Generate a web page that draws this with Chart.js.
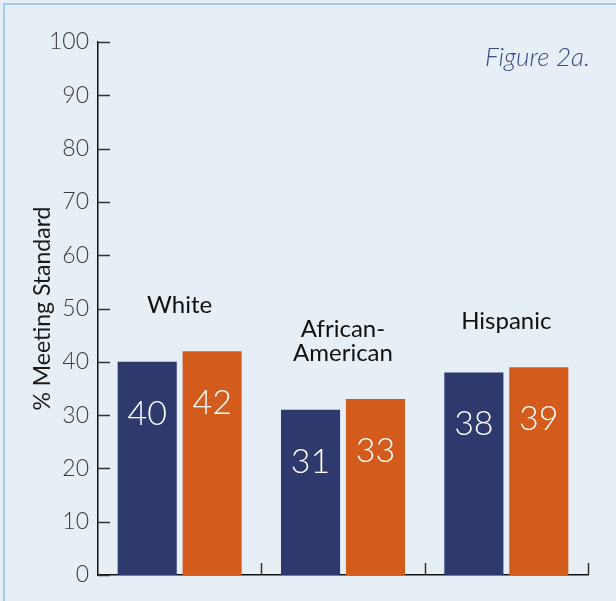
<!DOCTYPE html>
<html>
<head>
<meta charset="utf-8">
<script src="https://cdn.jsdelivr.net/npm/chart.js@4.4.1/dist/chart.umd.min.js"></script>
<style>
	html, body { margin: 0; padding: 0; background: #e6eef6; }
	#wrap { position: relative; width: 616px; height: 601px; }
</style>
</head>
<body>
<div id="wrap"><canvas id="scoreChart" width="616" height="601"></canvas></div>
<script>
var categories = [['White'], ['African-', 'American'], ['Hispanic']];
var firstYear = [40, 31, 38];
var secondYear = [42, 33, 39];
var yTicks = [0, 10, 20, 30, 40, 50, 60, 70, 80, 90, 100];

var NAVY = '#2e396d';
var ORANGE = '#d35c1c';
var FONT = 'Lato, "Noto Sans", sans-serif';

// page background, frame lines and figure caption
var backdrop = {
	id: 'backdrop',
	beforeDraw: function (chart) {
		var ctx = chart.ctx;
		ctx.save();
		ctx.fillStyle = '#e6eef6';
		ctx.fillRect(0, 0, chart.width, chart.height);
		ctx.strokeStyle = '#a3cbe6';
		ctx.lineWidth = 2;
		ctx.beginPath();
		ctx.moveTo(4, chart.height);
		ctx.lineTo(4, 4);
		ctx.lineTo(chart.width, 4);
		ctx.stroke();
		ctx.fillStyle = '#3c4a86';
		ctx.font = 'italic 300 26px ' + FONT;
		ctx.textAlign = 'right';
		ctx.textBaseline = 'middle';
		ctx.fillText('Figure 2a.', 590, 58);
		ctx.restore();
	}
};

// inward tick marks on both axes
var tickMarks = {
	id: 'tickMarks',
	afterDraw: function (chart) {
		var ctx = chart.ctx, x = chart.scales.x, y = chart.scales.y;
		var area = chart.chartArea;
		ctx.save();
		ctx.strokeStyle = '#333';
		ctx.lineWidth = 1.5;
		ctx.beginPath();
		y.ticks.forEach(function (t) {
			var py = Math.round(y.getPixelForValue(t.value)) + 0.5;
			ctx.moveTo(area.left, py);
			ctx.lineTo(area.left + 12, py);
		});
		for (var i = 0; i < categories.length; i++) {
			var px = Math.round(x.getPixelForValue(i) + (x.getPixelForValue(1) - x.getPixelForValue(0)) / 2) + 0.5;
			ctx.moveTo(px, area.bottom);
			ctx.lineTo(px, area.bottom - 12);
		}
		ctx.stroke();
		ctx.restore();
	}
};

// values inside the bars and group names above them
var barLabels = {
	id: 'barLabels',
	afterDatasetsDraw: function (chart) {
		var ctx = chart.ctx, x = chart.scales.x, y = chart.scales.y;
		ctx.save();
		ctx.textAlign = 'center';
		ctx.textBaseline = 'middle';
		ctx.fillStyle = '#fff';
		ctx.font = '300 34px ' + FONT;
		chart.data.datasets.forEach(function (ds, di) {
			chart.getDatasetMeta(di).data.forEach(function (bar, i) {
				ctx.fillText(String(ds.data[i]), bar.x, bar.y + 52);
			});
		});
		ctx.fillStyle = '#111';
		ctx.font = '24px ' + FONT;
		categories.forEach(function (lines, i) {
			var top = y.getPixelForValue(Math.max(firstYear[i], secondYear[i]));
			var cx = x.getPixelForValue(i);
			for (var k = 0; k < lines.length; k++) {
				var ly = top - 46 - (lines.length - 1 - k) * 24;
				ctx.fillText(lines[k], cx, ly);
			}
		});
		ctx.restore();
	}
};

window.addEventListener('load', function () {
	new Chart(document.getElementById('scoreChart'), {
		type: 'bar',
		data: {
			labels: categories.map(function (c) { return c.join(''); }),
			datasets: [
				{ label: 'Year 1', data: firstYear, backgroundColor: NAVY },
				{ label: 'Year 2', data: secondYear, backgroundColor: ORANGE }
			]
		},
		options: {
			responsive: false,
			animation: false,
			categoryPercentage: 0.795,
			barPercentage: 0.91,
			layout: { padding: { top: 42, right: 28, bottom: 26, left: 0 } },
			plugins: { legend: { display: false }, tooltip: { enabled: false } },
			scales: {
				x: {
					grid: { display: false, drawTicks: false },
					border: { display: true, color: '#111', width: 1.5 },
					ticks: { display: false }
				},
				y: {
					min: 0,
					max: 100,
					afterBuildTicks: function (scale) {
						scale.ticks = yTicks.map(function (v) { return { value: v }; });
					},
					afterFit: function (scale) { scale.width = 98; },
					grid: { display: false, drawTicks: false },
					border: { display: true, color: '#111', width: 1.5 },
					ticks: {
						color: '#3a3a3a',
						padding: 9,
						font: { family: FONT, size: 23, weight: 300 }
					},
					title: {
						display: true,
						text: '% Meeting Standard',
						color: '#1a1a1a',
						padding: { top: 29, bottom: 0 },
						font: { family: FONT, size: 23 }
					}
				}
			}
		},
		plugins: [backdrop, tickMarks, barLabels]
	});
});
</script>
</body>
</html>
